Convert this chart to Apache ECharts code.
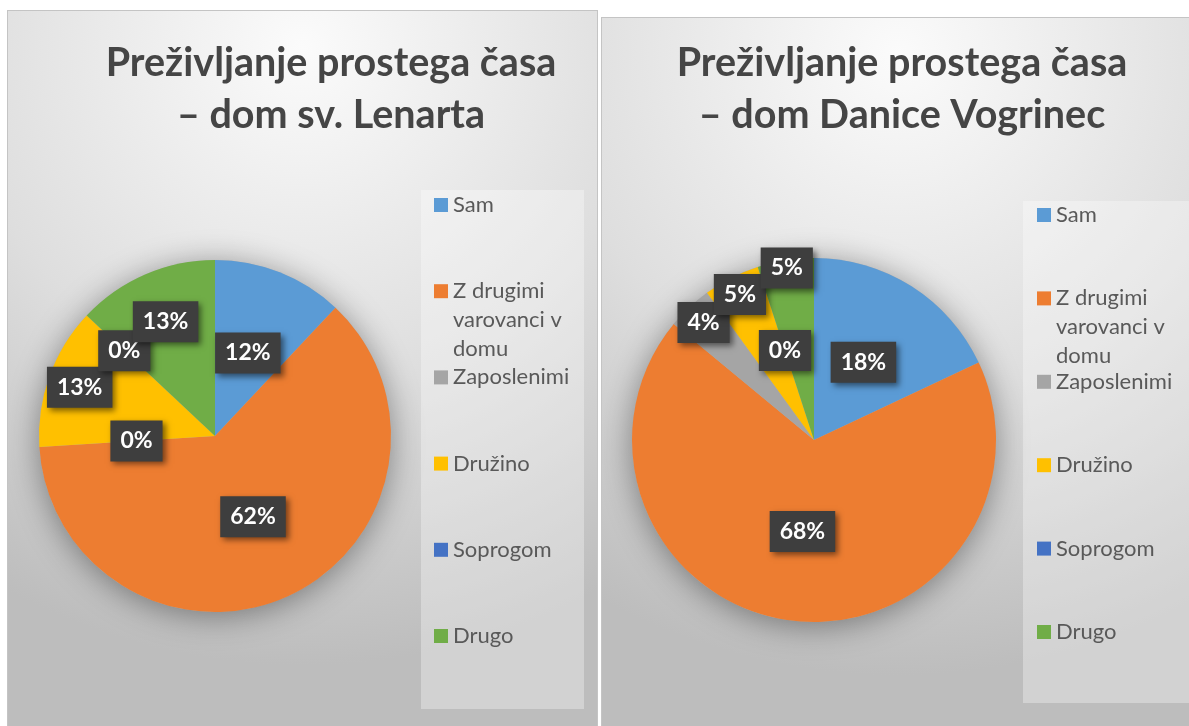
<!DOCTYPE html>
<html>
<head>
<meta charset="utf-8">
<script src="https://cdn.jsdelivr.net/npm/echarts@6/dist/echarts.min.js"></script>
<style>
  html, body { margin: 0; background: #fff; width: 1189px; height: 726px; overflow: hidden; }
  .panel { position: absolute; box-sizing: border-box; border: 1px solid #c4c4c4; }
  #lenart { left: 7px; top: 10px; width: 591px; height: 722px; }
  #vogrinec { left: 601px; top: 17px; width: 594px; height: 715px; }
</style>
</head>
<body>
<div id="lenart" class="panel"></div>
<div id="vogrinec" class="panel"></div>
<script>
// Two Excel-style pies: how residents of two homes spend their free time.
const CATEGORIES = ["Sam", "Z drugimi varovanci v domu", "Zaposlenimi", "Družino", "Soprogom", "Drugo"];
const LENART_PCT = [12, 62, 0, 13, 0, 13];
const VOGRINEC_PCT = [18, 68, 4, 5, 0, 5];
const LENART_TITLE = "Preživljanje prostega časa\n– dom sv. Lenarta";
const VOGRINEC_TITLE = "Preživljanje prostega časa\n– dom Danice Vogrinec";

const COLORS = ["#5b9bd5", "#ed7d31", "#a5a5a5", "#ffc000", "#4472c4", "#70ad47"];
const FONT = "Lato, 'Open Sans', sans-serif";
const LEGEND_WRAP = {"Z drugimi varovanci v domu": "Z drugimi\nvarovanci v\ndomu"};
const LEGEND_LINE = 29;

// Excel's best-fit label placement, as a fraction of the radius per slice
const LENART_LABEL_R = [0.49, 0.49, 0.43, 0.8, 0.69, 0.69];
const VOGRINEC_LABEL_R = [0.49, 0.49, 0.87, 0.88, 0.5, 0.94];

const labelBox = {
  formatter: "{c}%",
  color: "#fff",
  fontFamily: FONT,
  fontWeight: "bold",
  fontSize: 23,
  lineHeight: 23,
  backgroundColor: "#3e3e3e",
  padding: [9, 10, 9, 10],
  shadowColor: "rgba(0, 0, 0, 0.5)",
  shadowBlur: 6,
  shadowOffsetX: 3,
  shadowOffsetY: 3,
}

// Excel keeps a fixed slot per legend entry and lets long names wrap downward.
// Every entry gets its own legend; blank lines above a wrapped name keep the
// icon level with its first line (ECharts centres the text block on the icon).
function legends(cfg) {
  return CATEGORIES.map((name, i) => {
    const wrapped = LEGEND_WRAP[name] || name
    const lines = wrapped.split("\n").length
    const text = "\n".repeat(lines - 1) + wrapped
    const block = (2 * lines - 1) * LEGEND_LINE
    return {
      orient: "vertical",
      left: cfg.legendX,
      top: cfg.legendY + i * cfg.legendStep - block / 2,
      padding: 0,
      icon: "rect",
      itemWidth: 14,
      itemHeight: 14,
      data: [name],
      formatter: () => text,
      selectedMode: false,
      textStyle: {fontFamily: FONT, fontSize: 22, lineHeight: LEGEND_LINE, color: "#595959"},
    }
  })
}

function buildOption(cfg) {
  const data = CATEGORIES.map((name, i) => ({name, value: cfg.values[i]}))
  const rings = [...new Set(cfg.labelR)]
  const pie = {
    type: "pie",
    center: cfg.center,
    startAngle: 90,
    avoidLabelOverlap: false,
    labelLayout: {hideOverlap: false},
    labelLine: {show: false},
    emphasis: {disabled: true},
  }
  // one see-through ring per label radius; each shows only its own slices' labels
  const labelSeries = rings.map((f, k) => ({
    ...pie,
    silent: true,
    z: 4 + k,
    radius: [cfg.r * f - 1, cfg.r * f + 1],
    itemStyle: {color: "rgba(0,0,0,0)"},
    label: {...labelBox, position: "inside"},
    data: data.map((d, i) => ({...d, label: {show: cfg.labelR[i] === f}})),
  }))

  return {
    backgroundColor: new echarts.graphic.RadialGradient(0.5, 0.05, 1.05, [
      {offset: 0, color: "#fbfbfb"},
      {offset: 0.55, color: "#dedede"},
      {offset: 1, color: "#bdbdbd"},
    ]),
    color: COLORS,
    title: {
      text: cfg.title,
      left: cfg.titleX,
      top: cfg.titleY,
      textAlign: "center",
      padding: 0,
      textStyle: {fontFamily: FONT, fontWeight: "bold", fontSize: 39.5, lineHeight: 52, color: "#454545"},
    },
    graphic: [{
      type: "rect",
      z: -1,
      shape: cfg.legendBox,
      style: {fill: "rgba(255,255,255,0.32)"},
    }],
    legend: legends(cfg),
    series: [
      {
        ...pie,
        silent: true,
        z: 1,
        radius: cfg.r,
        label: {show: false},
        itemStyle: {color: "#b0b0b0", shadowBlur: 32, shadowColor: "rgba(0,0,0,0.4)", shadowOffsetY: 4},
        data: [{name: "", value: 1}],
      },
      {
        ...pie,
        z: 2,
        radius: cfg.r,
        label: {show: false},
        data,
      },
      ...labelSeries,
    ],
  }
}

const lenart = echarts.init(document.getElementById("lenart"), null, {renderer: "canvas"})
lenart.setOption(buildOption({
  values: LENART_PCT,
  labelR: LENART_LABEL_R,
  title: LENART_TITLE,
  titleX: 323, titleY: 26,
  center: [207, 425], r: 176,
  legendX: 426, legendY: 194, legendStep: 86.2,
  legendBox: {x: 413, y: 179, width: 163, height: 519},
}))

const vogrinec = echarts.init(document.getElementById("vogrinec"), null, {renderer: "canvas"})
vogrinec.setOption(buildOption({
  values: VOGRINEC_PCT,
  labelR: VOGRINEC_LABEL_R,
  title: VOGRINEC_TITLE,
  titleX: 300, titleY: 19,
  center: [212, 422], r: 182,
  legendX: 435, legendY: 197, legendStep: 83.4,
  legendBox: {x: 421, y: 183, width: 166, height: 502},
}))
</script>
</body>
</html>
